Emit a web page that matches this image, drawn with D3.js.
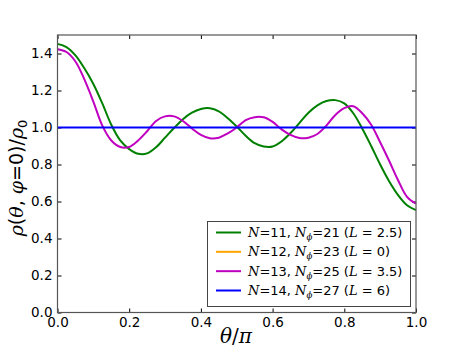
<!DOCTYPE html>
<html lang="en">
<head>
<meta charset="UTF-8">
<title>rho profile</title>
<script src="https://d3js.org/d3.v7.min.js"></script>
<style>
  body { margin: 0; background: #fff; }
  svg { display: block; }
  .tick text { font-family: "DejaVu Sans", sans-serif; font-size: 13.5px; fill: #000; }
  .tick line { stroke: #000; stroke-width: 1; }
  .domain { display: none; }
</style>
</head>
<body>
<svg id="chart"></svg>
<script>
const width = 463, height = 348;

// theta / pi sample points
const theta = [0, 0.025, 0.05, 0.075, 0.1, 0.125, 0.15, 0.175, 0.2, 0.225,
  0.25, 0.275, 0.3, 0.325, 0.35, 0.375, 0.4, 0.425, 0.45, 0.475,
  0.5, 0.525, 0.55, 0.575, 0.6, 0.625, 0.65, 0.675, 0.7, 0.725,
  0.75, 0.775, 0.8, 0.825, 0.85, 0.875, 0.9, 0.925, 0.95, 0.975, 1.0];

// rho / rho0 for each system
const rhoN11 = [1.452, 1.435, 1.39, 1.32, 1.235, 1.13, 1.015, 0.93, 0.883, 0.858,
  0.86, 0.893, 0.945, 0.997, 1.045, 1.08, 1.1, 1.104, 1.087, 1.05,
  1.005, 0.955, 0.915, 0.897, 0.897, 0.925, 0.97, 1.025, 1.08, 1.12,
  1.143, 1.148, 1.13, 1.077, 0.995, 0.9, 0.8, 0.71, 0.635, 0.58, 0.553];
const rhoN12 = theta.map(() => 1.0);
const rhoN13 = [1.423, 1.408, 1.357, 1.26, 1.14, 1.01, 0.93, 0.895, 0.895, 0.93,
  0.98, 1.035, 1.06, 1.06, 1.035, 0.995, 0.96, 0.942, 0.945, 0.968,
  1.0, 1.04, 1.056, 1.055, 1.03, 0.99, 0.96, 0.943, 0.945, 0.965,
  1.01, 1.068, 1.105, 1.115, 1.077, 1.015, 0.92, 0.82, 0.715, 0.625, 0.588];
const rhoN14 = theta.map(() => 1.0);

// legend pieces
const nVals = [11, 12, 13, 14];
const nPhiVals = [21, 23, 25, 27];
const lVals = ["2.5", "0", "3.5", "6"];
const colors = ["#008000", "#ffa500", "#c000c0", "#0000ff"];
const seriesVals = [rhoN11, rhoN12, rhoN13, rhoN14];

const xTicks = [0, 0.2, 0.4, 0.6, 0.8, 1.0];
const yTicks = [0, 0.2, 0.4, 0.6, 0.8, 1.0, 1.2, 1.4];

const mLeft = 57.5, mRight = 416, mTop = 35, mBottom = 312.5;

const x = d3.scaleLinear().domain([0, 1]).range([mLeft, mRight]);
const y = d3.scaleLinear().domain([0, 1.5]).range([mBottom, mTop]);

const svg = d3.select("#chart").attr("width", width).attr("height", height);

// axes (ticks point inwards)
svg.append("g").attr("transform", `translate(0,${mBottom})`)
  .call(d3.axisBottom(x).tickValues(xTicks).tickSizeInner(-4).tickSizeOuter(0)
    .tickPadding(5).tickFormat(d3.format(".1f")));
svg.append("g").attr("transform", `translate(0,${mTop})`)
  .call(d3.axisTop(x).tickValues(xTicks).tickSizeInner(-4).tickSizeOuter(0).tickFormat(""));
svg.append("g").attr("transform", `translate(${mLeft},0)`)
  .call(d3.axisLeft(y).tickValues(yTicks).tickSizeInner(-4).tickSizeOuter(0)
    .tickPadding(5).tickFormat(d3.format(".1f")));
svg.append("g").attr("transform", `translate(${mRight},0)`)
  .call(d3.axisRight(y).tickValues(yTicks).tickSizeInner(-4).tickSizeOuter(0).tickFormat(""));

// lines (the flat orange one is hidden under the blue one)
const line = d3.line().x((d, i) => x(theta[i])).y(d => y(d)).curve(d3.curveCatmullRom);
svg.append("g").selectAll("path")
  .data(seriesVals)
  .join("path")
  .attr("d", line)
  .attr("fill", "none")
  .attr("stroke", (d, i) => colors[i])
  .attr("stroke-width", (d, i) => i === 1 ? 1 : 2);

// frame
svg.append("rect")
  .attr("x", mLeft).attr("y", mTop)
  .attr("width", mRight - mLeft).attr("height", mBottom - mTop)
  .attr("fill", "none").attr("stroke", "#555").attr("stroke-width", 1.2);

// legend
const lg = svg.append("g");
lg.append("rect")
  .attr("x", 207.5).attr("y", 221.5).attr("width", 203).attr("height", 85)
  .attr("fill", "#fff").attr("stroke", "#444").attr("stroke-width", 1);

const rowY = d3.scaleLinear().domain([0, 3]).range([232.5, 290.5]);
nVals.forEach((n, i) => {
  const yy = rowY(i);
  lg.append("line")
    .attr("x1", 216).attr("x2", 241).attr("y1", yy).attr("y2", yy)
    .attr("stroke", colors[i]).attr("stroke-width", 2);
  const t = lg.append("text")
    .attr("x", 248).attr("y", yy + 4.5)
    .attr("font-family", "DejaVu Sans, sans-serif").attr("font-size", 13);
  const it = (s) => t.append("tspan").attr("font-family", "DejaVu Serif, serif")
    .attr("font-style", "italic").text(s);
  it("N");
  t.append("tspan").text("=" + n + ", ");
  it("N");
  t.append("tspan").attr("font-family", "DejaVu Serif, serif").attr("font-style", "italic")
    .attr("font-size", 8.5).attr("dy", 3).text("ϕ");
  t.append("tspan").attr("dy", -3).text("=" + nPhiVals[i] + " (");
  it("L");
  t.append("tspan").text(" = " + lVals[i] + ")");
});

// axis labels
const xl = svg.append("text")
  .attr("x", 236).attr("y", 343)
  .attr("text-anchor", "middle")
  .attr("font-family", "DejaVu Serif, serif").attr("font-size", 20);
xl.append("tspan").attr("font-style", "italic").text("θ");
xl.append("tspan").text("/");
xl.append("tspan").attr("font-style", "italic").text("π");

const yl = svg.append("text")
  .attr("transform", "translate(23,178) rotate(-90)")
  .attr("text-anchor", "middle")
  .attr("font-family", "DejaVu Sans, sans-serif").attr("font-size", 19);
const ys = (s, italic) => yl.append("tspan")
  .attr("font-family", italic ? "DejaVu Serif, serif" : null)
  .attr("font-style", italic ? "italic" : null).text(s);
ys("ρ", true); ys("("); ys("θ", true); ys(", "); ys("φ", true);
ys("=0)/"); ys("ρ", true);
yl.append("tspan").attr("font-size", 13).attr("dy", 4).text("0");
</script>
</body>
</html>
